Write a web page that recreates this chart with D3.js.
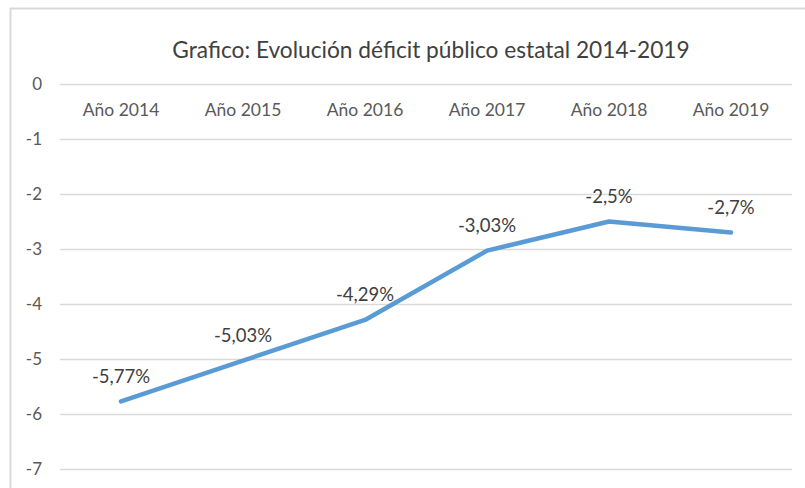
<!DOCTYPE html>
<html><head><meta charset="utf-8">
<script src="https://cdn.jsdelivr.net/npm/d3@7"></script>
<style>body{margin:0;background:#fff}svg{display:block}text{font-family:Lato,"Open Sans",sans-serif}</style>
</head><body>
<script>
const categories = ["Año 2014","Año 2015","Año 2016","Año 2017","Año 2018","Año 2019"];
const values = [-5.77,-5.03,-4.29,-3.03,-2.5,-2.7];
const valueLabels = ["-5,77%","-5,03%","-4,29%","-3,03%","-2,5%","-2,7%"];
const yTicks = [0,-1,-2,-3,-4,-5,-6,-7];
const title = "Grafico: Evolución déficit público estatal 2014-2019";

const W=805,H=488;
const svg=d3.select("body").append("svg").attr("width",W).attr("height",H);
// chart border (partial, cropped)
svg.append("path").attr("d","M10.5,488 L10.5,8.5 L805,8.5").attr("fill","none").attr("stroke","#d9d9d9").attr("stroke-width",2);

const x=d3.scaleBand().domain(categories).range([60,792]);
const y=d3.scaleLinear().domain([0,-7]).range([84,469]);

// gridlines
svg.append("g").selectAll("line").data(yTicks).join("line")
  .attr("x1",60).attr("x2",792).attr("y1",d=>Math.round(y(d))+0.5).attr("y2",d=>Math.round(y(d))+0.5)
  .attr("stroke","#d9d9d9").attr("stroke-width",1.5);

// y axis labels
const yAxis=d3.axisLeft(y).tickValues(yTicks).tickSize(0).tickPadding(0).tickFormat(d=>String(d));
const gy=svg.append("g").attr("transform","translate(42,0)").call(yAxis);
gy.select(".domain").remove();
gy.selectAll("text").attr("fill","#595959").style("font-size","17px").style("font-family","Lato,sans-serif");

// x axis labels at top
const xAxis=d3.axisTop(x).tickSize(0).tickPadding(0);
const gx=svg.append("g").attr("transform","translate(0,110)").call(xAxis);
gx.select(".domain").remove();
gx.selectAll("text").attr("fill","#595959").attr("dy","0.35em").style("font-size","17.5px").style("font-family","Lato,sans-serif");

// title
svg.append("text").attr("x",431).attr("y",58).attr("text-anchor","middle").attr("fill","#404040")
  .style("font-size","22.7px").text(title);

// line
const line=d3.line().x((d,i)=>x(categories[i])+x.bandwidth()/2).y(d=>y(d));
svg.append("path").datum(values).attr("d",line).attr("fill","none").attr("stroke","#5b9bd5")
  .attr("stroke-width",4.5).attr("stroke-linecap","round").attr("stroke-linejoin","round");

// data labels
svg.append("g").selectAll("text").data(values).join("text")
  .attr("x",(d,i)=>x(categories[i])+x.bandwidth()/2)
  .attr("y",d=>y(d)-25).attr("dy","0.35em").attr("text-anchor","middle")
  .attr("fill","#404040").style("font-size","18.5px").text((d,i)=>valueLabels[i]);
</script>
</body></html>
